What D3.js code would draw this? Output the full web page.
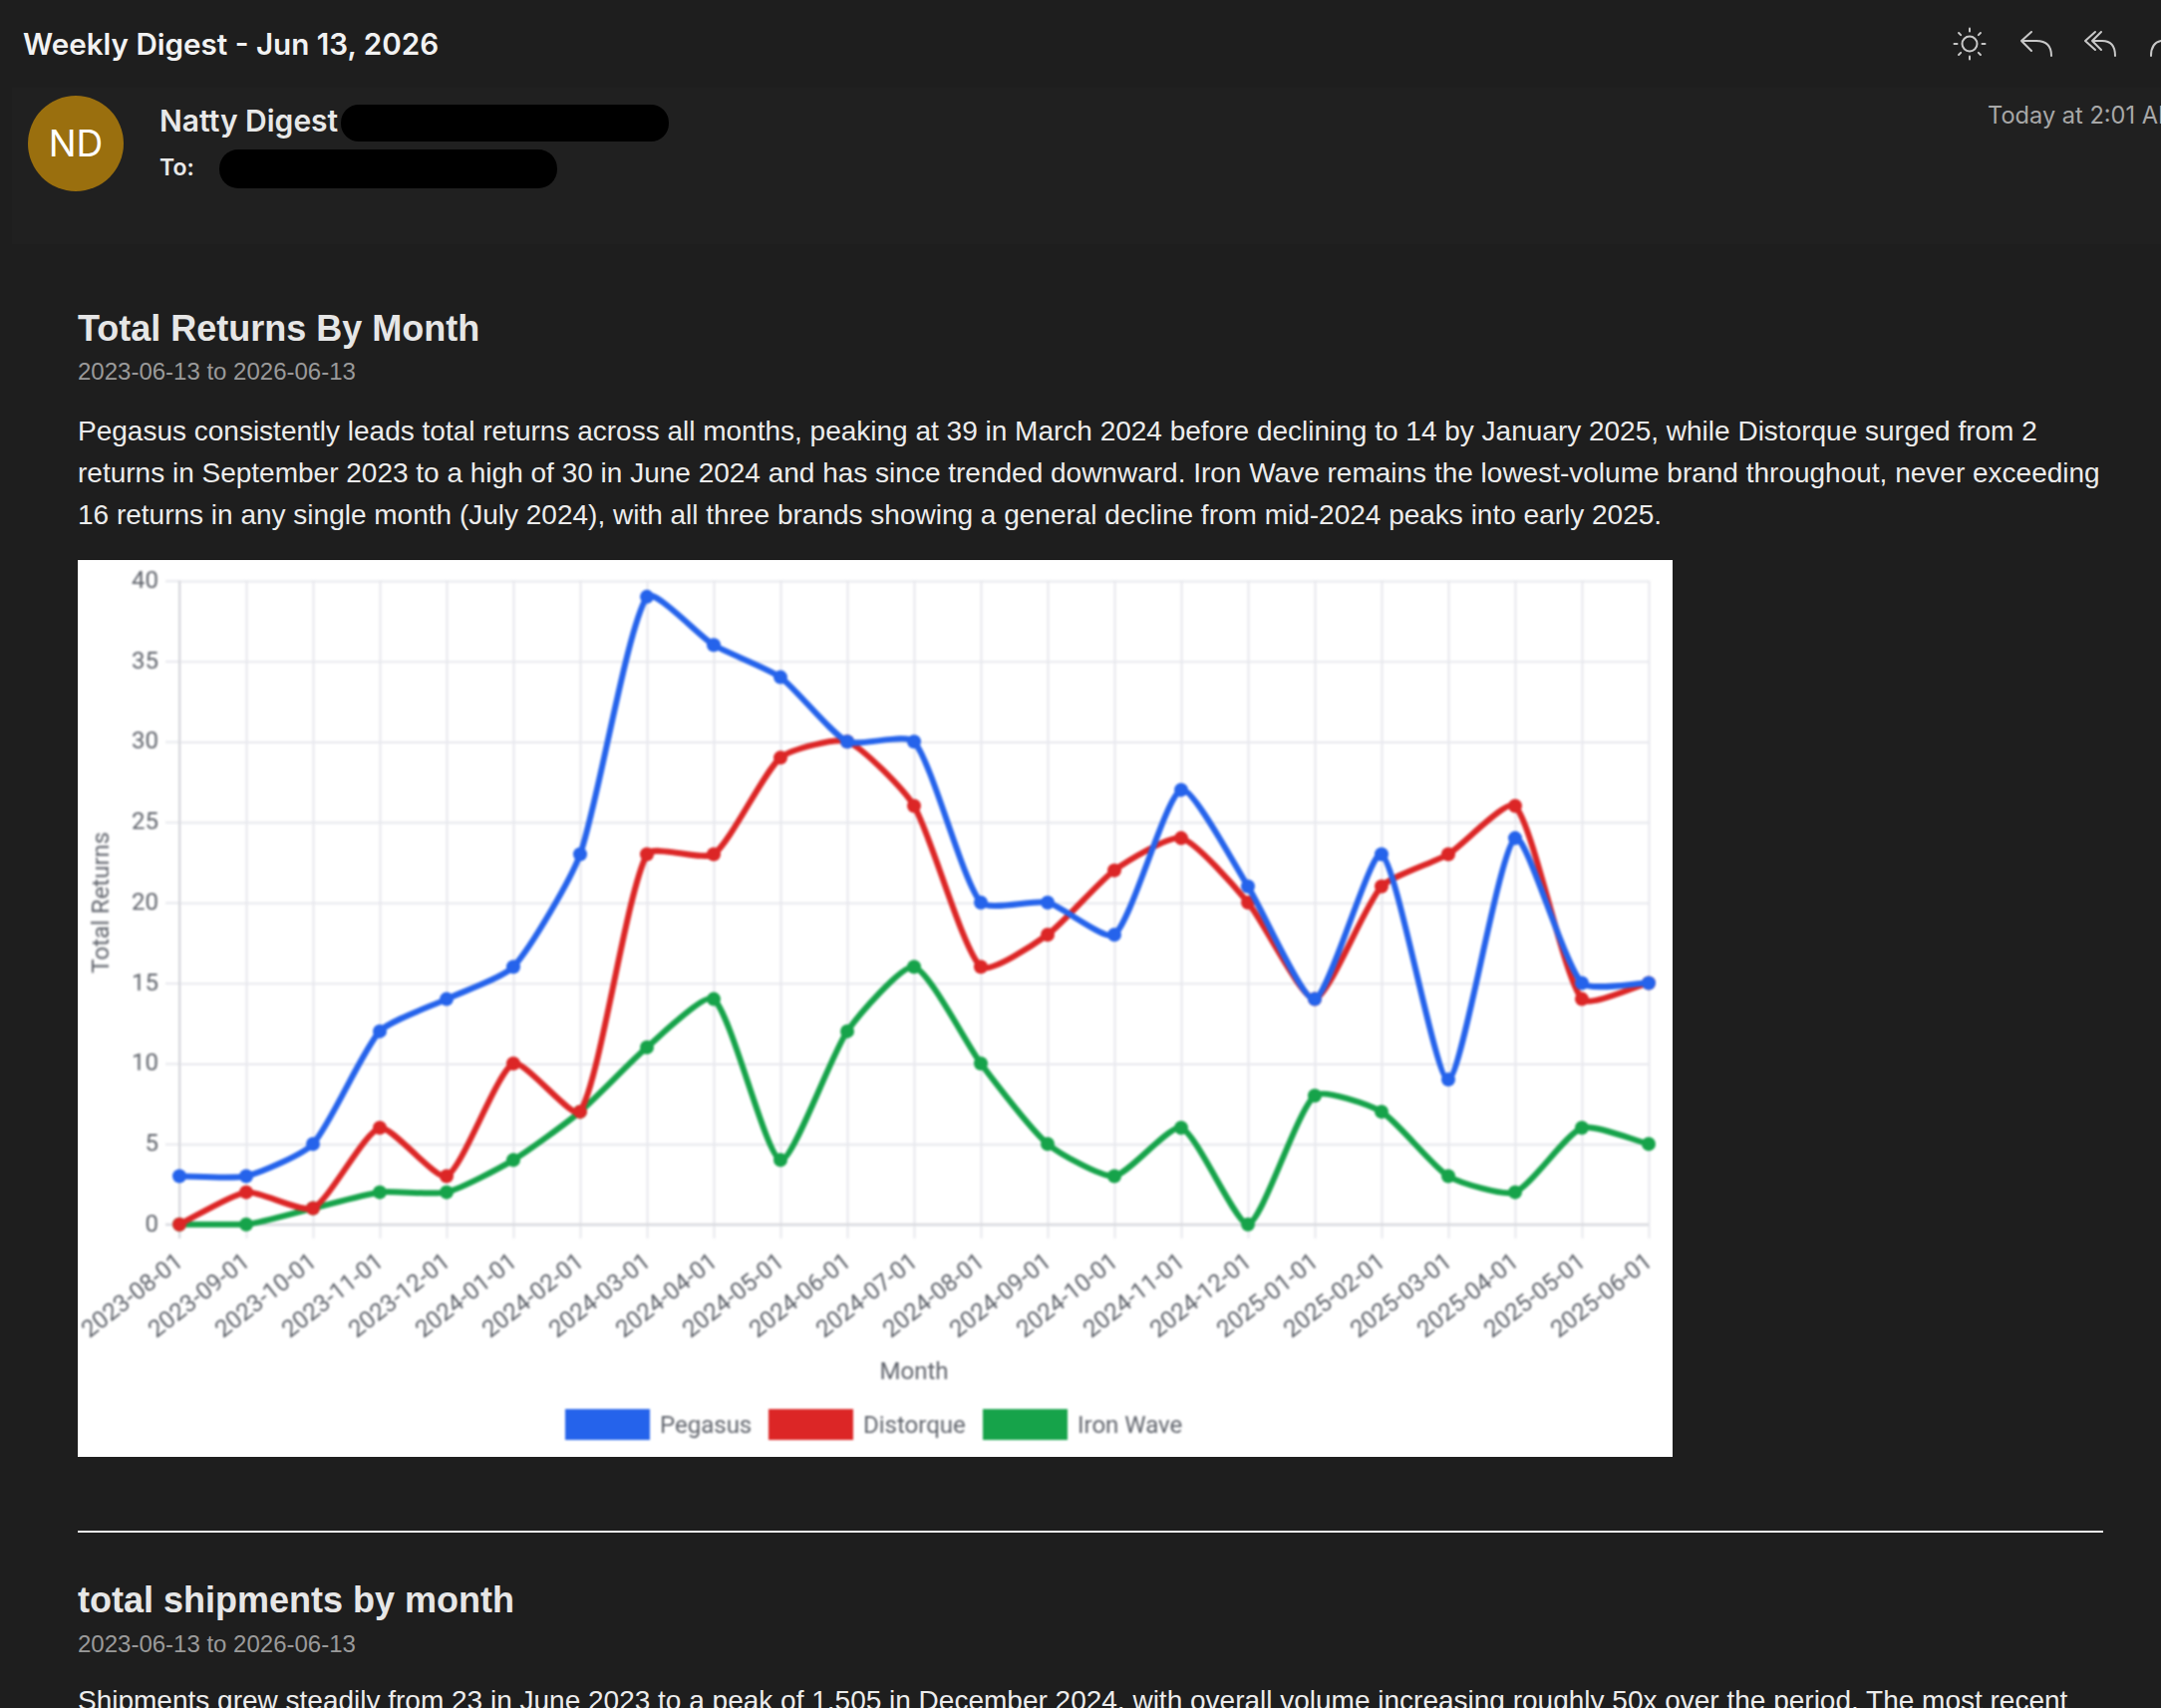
<!DOCTYPE html>
<html>
<head>
<meta charset="utf-8">
<script src="https://cdn.jsdelivr.net/npm/d3@7"></script>
<style>
  html, body { margin: 0; padding: 0; background: #1e1e1e; overflow: hidden; }
  svg { display: block; }
  text { font-family: "Liberation Sans", sans-serif; }
  .ui { font-family: Inter, sans-serif; }
  .chart text { font-family: Roboto, sans-serif; fill: #60646c; font-size: 24px; }
  .chart .domain { display: none; }
</style>
</head>
<body>
<script>
// Chart data
const months = ["2023-08-01","2023-09-01","2023-10-01","2023-11-01","2023-12-01","2024-01-01","2024-02-01","2024-03-01","2024-04-01","2024-05-01","2024-06-01","2024-07-01","2024-08-01","2024-09-01","2024-10-01","2024-11-01","2024-12-01","2025-01-01","2025-02-01","2025-03-01","2025-04-01","2025-05-01","2025-06-01"];
const pegasus = [3,3,5,12,14,16,23,39,36,34,30,30,20,20,18,27,21,14,23,9,24,15,15];
const distorque = [0,2,1,6,3,10,7,23,23,29,30,26,16,18,22,24,20,14,21,23,26,14,15];
const ironWave = [0,0,1,2,2,4,7,11,14,4,12,16,10,5,3,6,0,8,7,3,2,6,5];
const yTicks = [0,5,10,15,20,25,30,35,40];
const seriesNames = ["Pegasus","Distorque","Iron Wave"];
const seriesColors = ["#2563eb","#dc2626","#16a34a"];

const paragraph1 = [
  "Pegasus consistently leads total returns across all months, peaking at 39 in March 2024 before declining to 14 by January 2025, while Distorque surged from 2",
  "returns in September 2023 to a high of 30 in June 2024 and has since trended downward. Iron Wave remains the lowest-volume brand throughout, never exceeding",
  "16 returns in any single month (July 2024), with all three brands showing a general decline from mid-2024 peaks into early 2025."
];
const paragraph2 = "Shipments grew steadily from 23 in June 2023 to a peak of 1,505 in December 2024, with overall volume increasing roughly 50x over the period. The most recent";

const svg = d3.select("body").append("svg")
    .attr("width", 2168)
    .attr("height", 1714);

// Mail header
svg.append("rect").attr("width", 2168).attr("height", 1714).attr("fill", "#1e1e1e");
svg.append("rect").attr("x", 12).attr("y", 88).attr("width", 2156).attr("height", 157).attr("fill", "#202020");

function label(x, y, str, size, color, weight, cls) {
  return svg.append("text")
      .attr("class", cls || null)
      .attr("x", x).attr("y", y)
      .attr("font-size", size)
      .attr("font-weight", weight || 400)
      .attr("fill", color)
      .text(str);
}

label(23, 55, "Weekly Digest - Jun 13, 2026", 29.6, "#f2f2f2", 600, "ui");
label(160, 132, "Natty Digest", 30, "#e8e8e8", 600, "ui");
label(160, 176, "To:", 23, "#e8e8e8", 600, "ui");
label(1994, 124, "Today at 2:01 AM", 23.6, "#a8a8a8", 400, "ui");

svg.append("circle").attr("cx", 76).attr("cy", 144).attr("r", 48).attr("fill", "#9a6f0e");
label(76, 157, "ND", 37, "#ffffff", 400, "ui").attr("text-anchor", "middle");

svg.append("rect").attr("x", 342).attr("y", 105).attr("width", 329).attr("height", 37).attr("rx", 18).attr("fill", "#000");
svg.append("rect").attr("x", 220).attr("y", 150).attr("width", 339).attr("height", 39).attr("rx", 19).attr("fill", "#000");

// Toolbar icons
const icons = svg.append("g").attr("fill", "none").attr("stroke", "#c8c8c8").attr("stroke-width", 2).attr("stroke-linecap", "round").attr("stroke-linejoin", "round");
icons.append("circle").attr("cx", 1976).attr("cy", 44).attr("r", 7.5);
d3.range(8).forEach(i => {
  const a = i * Math.PI / 4;
  icons.append("line")
      .attr("x1", 1976 + 12.5 * Math.cos(a)).attr("y1", 44 + 12.5 * Math.sin(a))
      .attr("x2", 1976 + 15.5 * Math.cos(a)).attr("y2", 44 + 15.5 * Math.sin(a));
});
icons.append("path").attr("d", "M2038,32 L2028,41 L2038,51 M2028,41 H2043 Q2058,41 2058,56");
icons.append("path").attr("d", "M2102,32 L2092,41 L2102,50 M2108,32 L2099,41 L2108,50 M2099,41 H2109 Q2122,41 2122,56");
icons.append("path").attr("d", "M2158,56 Q2158,43 2168,41");

// Section text
label(78, 342, "Total Returns By Month", 36, "#e6e6e6", 700);
label(78, 381, "2023-06-13 to 2026-06-13", 24, "#9a9a9a");
paragraph1.forEach((line, i) => {
  label(78, 442 + i * 42, line, 28, "#ececec");
});

svg.append("rect").attr("x", 78).attr("y", 1536).attr("width", 2032).attr("height", 2).attr("fill", "#f0f0f0");
label(78, 1618, "total shipments by month", 36, "#e6e6e6", 700);
label(78, 1658, "2023-06-13 to 2026-06-13", 24, "#9a9a9a");
label(78, 1716, paragraph2, 28, "#ececec");

// Chart card
svg.append("rect").attr("x", 78).attr("y", 562).attr("width", 1600).attr("height", 900).attr("fill", "#fff");

const margin = {top: 582.7, left: 180},
    width = 1474,
    height = 646;

const chart = svg.append("g")
    .attr("class", "chart")
    .attr("transform", `translate(${margin.left},${margin.top})`)
    .style("filter", "blur(0.8px)");

const x = d3.scalePoint().domain(months).range([0, width]);
const y = d3.scaleLinear().domain([0, 40]).range([height, 0]);

// Grid
chart.append("g")
    .attr("transform", `translate(0,${height})`)
    .call(d3.axisBottom(x).tickSize(-height).tickFormat(""))
    .selectAll("line").attr("stroke", "#e7e8ed").attr("stroke-width", 2);
chart.append("g")
    .call(d3.axisLeft(y).tickValues(yTicks).tickSize(-width).tickFormat(""))
    .selectAll("line").attr("stroke", "#e7e8ed").attr("stroke-width", 2);

// Axes: ticks poke out past the plot edge
const xAxis = chart.append("g")
    .attr("transform", `translate(0,${height})`)
    .call(d3.axisBottom(x).tickSize(14).tickPadding(0));
xAxis.selectAll("line").attr("stroke", "#e7e8ed").attr("stroke-width", 2);
xAxis.selectAll("text")
    .attr("text-anchor", "end")
    .attr("dy", 0)
    .attr("transform", "translate(-4,29) rotate(-38)");

const yAxis = chart.append("g")
    .call(d3.axisLeft(y).tickValues(yTicks).tickSize(14).tickPadding(7));
yAxis.selectAll("line").attr("stroke", "#e7e8ed").attr("stroke-width", 2);
yAxis.selectAll("text").attr("dy", "0.28em");

// Darker lines at x=0 and y=0
chart.append("line").attr("x1", 0).attr("x2", 0).attr("y1", 0).attr("y2", height + 14).attr("stroke", "#d6d7dc").attr("stroke-width", 2);
chart.append("line").attr("x1", -14).attr("x2", width).attr("y1", y(0)).attr("y2", y(0)).attr("stroke", "#d6d7dc").attr("stroke-width", 2);

// Same spline that Chart.js draws for a line with tension
function tensionCurve(context) {
  const t = 0.2;
  let pts = [];
  const clampX = v => Math.max(0, Math.min(width, v));
  const clampY = v => Math.max(0, Math.min(height, v));
  return {
    lineStart() { pts = []; },
    point(px, py) { pts.push([+px, +py]); },
    lineEnd() {
      const ctrl = pts.map((p, i) => {
        const prev = pts[i - 1] || p, next = pts[i + 1] || p;
        const d01 = Math.hypot(p[0] - prev[0], p[1] - prev[1]);
        const d12 = Math.hypot(next[0] - p[0], next[1] - p[1]);
        const s01 = d01 / (d01 + d12) || 0;
        const s12 = d12 / (d01 + d12) || 0;
        const fa = t * s01, fb = t * s12;
        return {
          inX: clampX(p[0] - fa * (next[0] - prev[0])),
          inY: clampY(p[1] - fa * (next[1] - prev[1])),
          outX: clampX(p[0] + fb * (next[0] - prev[0])),
          outY: clampY(p[1] + fb * (next[1] - prev[1]))
        };
      });
      pts.forEach((p, i) => {
        if (i === 0) context.moveTo(p[0], p[1]);
        else context.bezierCurveTo(ctrl[i - 1].outX, ctrl[i - 1].outY, ctrl[i].inX, ctrl[i].inY, p[0], p[1]);
      });
    },
    areaStart() {}, areaEnd() {}
  };
}

const line = d3.line()
    .x((d, i) => x(months[i]))
    .y(d => y(d))
    .curve(tensionCurve);

// Drawn last series first, so Pegasus ends up on top
const allSeries = [pegasus, distorque, ironWave];
[2, 1, 0].forEach(s => {
  chart.append("path")
      .attr("d", line(allSeries[s]))
      .attr("fill", "none")
      .attr("stroke", seriesColors[s])
      .attr("stroke-width", 6);
  chart.selectAll(`circle.s${s}`)
    .data(allSeries[s])
    .enter()
    .append("circle")
      .attr("class", `s${s}`)
      .attr("cx", (d, i) => x(months[i]))
      .attr("cy", d => y(d))
      .attr("r", 7)
      .attr("fill", seriesColors[s]);
});

// Axis titles
chart.append("text")
    .attr("x", width / 2)
    .attr("y", height + 155.3)
    .attr("text-anchor", "middle")
    .text("Month");
chart.append("text")
    .attr("transform", `translate(-71,${height / 2}) rotate(-90)`)
    .attr("text-anchor", "middle")
    .text("Total Returns");

// Legend
const legendBoxX = [387, 591, 806];
const legend = chart.selectAll("g.legend")
    .data(seriesNames)
    .enter()
    .append("g")
      .attr("class", "legend")
      .attr("transform", (d, i) => `translate(${legendBoxX[i]},${height + 185.3})`);
legend.append("rect")
    .attr("width", 85)
    .attr("height", 31)
    .attr("fill", (d, i) => seriesColors[i]);
legend.append("text")
    .attr("x", 95)
    .attr("y", 24)
    .text(d => d);
</script>
</body>
</html>
